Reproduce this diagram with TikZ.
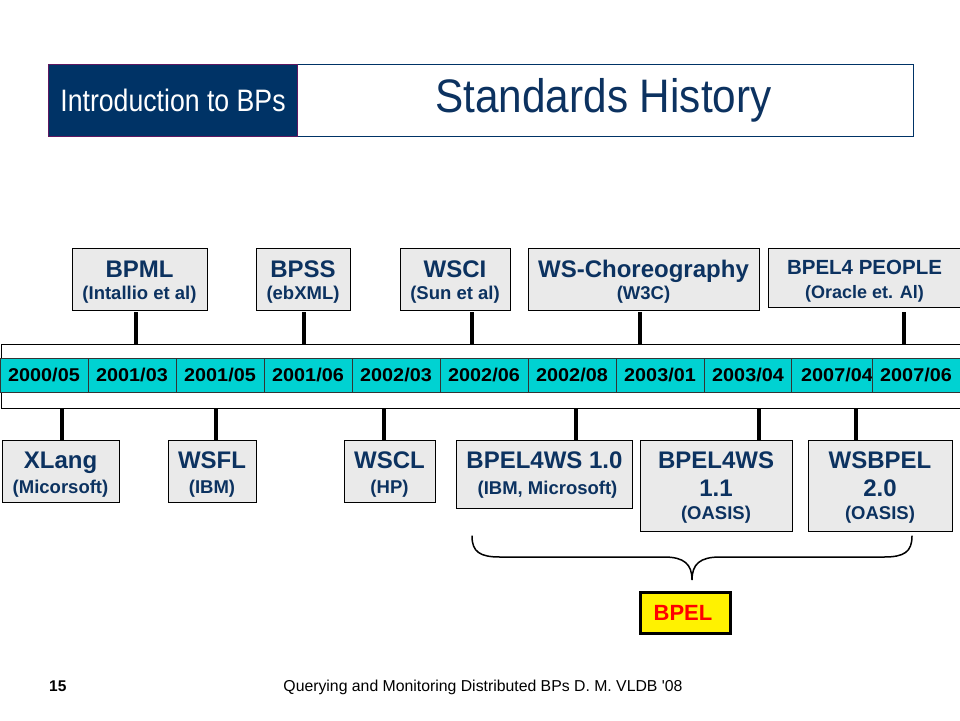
\documentclass[tikz,border=0pt]{standalone}
\usepackage{fontspec}
\setmainfont{Liberation Sans}
\newfontfamily\footf{Liberation Sans}[Ligatures=TeXOff]
\definecolor{navy}{RGB}{0,51,102}
\definecolor{tblue}{RGB}{12,50,96}
\definecolor{tealc}{RGB}{0,210,210}
\definecolor{boxgray}{RGB}{234,234,234}
\definecolor{hdrpurple}{RGB}{96,24,96}
\begin{document}
\begin{tikzpicture}[x=1pt,y=-1pt,
  box/.style={draw=black, line width=1pt, fill=boxgray, inner sep=0pt, outer sep=0pt},
  conn/.style={line width=4pt},
  ttl/.style={font=\bfseries\fontsize{24}{28}\selectfont, text=tblue, anchor=base, inner sep=0pt},
  ttls/.style={font=\bfseries\fontsize{20.5}{24}\selectfont, text=tblue, anchor=base, inner sep=0pt},
  subt/.style={font=\bfseries\fontsize{18.5}{22}\selectfont, text=tblue, anchor=base, inner sep=0pt},
  cell/.style={draw=black!80, line width=0.8pt, fill=tealc, minimum height=34, inner sep=0pt,
    font=\bfseries\fontsize{18.5}{22}\selectfont},
]
\useasboundingbox (0,0) rectangle (960,720);
\fill[white] (0,0) rectangle (960,720);

% header
\node[draw=navy, line width=1pt, minimum width=865, minimum height=72, anchor=north west, inner sep=0pt] (hdr) at (48,64) {};
\node[fill=navy, draw=hdrpurple, line width=1pt, minimum width=249, minimum height=72, anchor=north west, inner sep=0pt,
  text=white, font=\fontsize{31}{36}\selectfont] (intro) at (48,64) {\scalebox{0.86}[1]{Introduction to BPs}};
\node[anchor=base, inner sep=0pt, text=tblue, font=\fontsize{47}{54}\selectfont] (title) at (603.5,112) {\scalebox{0.9}[1]{Standards History}};

% timeline
\node[draw=black, line width=1pt, fill=white, minimum width=980, minimum height=64, anchor=north west, inner sep=0pt] (tl) at (0.5,344) {};
\node[cell, minimum width=88] (c1) at (44,375) {\scalebox{1.07}[1]{2000/05}};
\node[cell, minimum width=88] (c2) at (132,375) {\scalebox{1.07}[1]{2001/03}};
\node[cell, minimum width=88] (c3) at (220,375) {\scalebox{1.07}[1]{2001/05}};
\node[cell, minimum width=88] (c4) at (308,375) {\scalebox{1.07}[1]{2001/06}};
\node[cell, minimum width=88] (c5) at (396,375) {\scalebox{1.07}[1]{2002/03}};
\node[cell, minimum width=88] (c6) at (484,375) {\scalebox{1.07}[1]{2002/06}};
\node[cell, minimum width=88] (c7) at (572,375) {\scalebox{1.07}[1]{2002/08}};
\node[cell, minimum width=88] (c8) at (660,375) {\scalebox{1.07}[1]{2003/01}};
\node[cell, minimum width=88] (c9) at (748,375) {\scalebox{1.07}[1]{2003/04}};
\node[cell, minimum width=80] (c10) at (832,375) {\hspace*{10pt}\scalebox{1.07}[1]{2007/04}};
\node[cell, minimum width=100] (c11) at (922,375) {\scalebox{1.07}[1]{2007/06}\hspace*{12pt}};

% upper boxes
\node[box, minimum width=135, minimum height=62] (bpml) at (139.5,279) {};
\node[ttl] (bpmlT) at (139.5,277) {BPML};
\node[subt] (bpmlS) at (139.5,299.5) {(Intallio et al)};

\node[box, minimum width=94, minimum height=62] (bpss) at (303,279) {};
\node[ttl] (bpssT) at (303,277) {BPSS};
\node[subt] (bpssS) at (303,299.5) {(ebXML)};

\node[box, minimum width=110, minimum height=62] (wsci) at (455,279) {};
\node[ttl] (wsciT) at (455,277) {WSCI};
\node[subt] (wsciS) at (455,299.5) {(Sun et al)};

\node[box, minimum width=231, minimum height=62] (wsch) at (643.5,279) {};
\node[ttl] (wschT) at (643.5,277) {WS-Choreography};
\node[subt] (wschS) at (643.5,299.5) {(W3C)};

\node[box, minimum width=200, minimum height=59, anchor=north west] (bp4p) at (768,248) {};
\node[ttls] (bp4pT) at (864.5,274.3) {BPEL4 PEOPLE};
\node[subt, font=\bfseries\fontsize{18}{22}\selectfont] (bp4pS) at (864.5,298) {(Oracle et. Al)};

% lower boxes
\node[box, minimum width=117, minimum height=62] (xlang) at (60.5,471) {};
\node[ttl] (xlangT) at (60.5,468) {XLang};
\node[subt] (xlangS) at (60.5,493) {(Micorsoft)};

\node[box, minimum width=88, minimum height=62] (wsfl) at (212,471) {};
\node[ttl] (wsflT) at (212,468) {WSFL};
\node[subt] (wsflS) at (212,493) {(IBM)};

\node[box, minimum width=91, minimum height=62] (wscl) at (389.5,471) {};
\node[ttl] (wsclT) at (389.5,468) {WSCL};
\node[subt] (wsclS) at (389.5,493) {(HP)};

\node[box, minimum width=176, minimum height=68] (b10) at (544,474) {};
\node[ttl] (b10T) at (544.5,468) {BPEL4WS 1.0};
\node[subt] (b10S) at (547.5,494) {(IBM, Microsoft)};

\node[box, minimum width=152, minimum height=91] (b11) at (716,485.5) {};
\node[ttl] (b11T) at (716,468) {BPEL4WS};
\node[ttl] (b11V) at (716,496.5) {1.1};
\node[subt] (b11S) at (716,519.5) {(OASIS)};

\node[box, minimum width=144, minimum height=91] (ws20) at (880,485.5) {};
\node[ttl] (ws20T) at (880,468) {WSBPEL};
\node[ttl] (ws20V) at (880,496.5) {2.0};
\node[subt] (ws20S) at (880,519.5) {(OASIS)};

% connector anchors on the timeline
\coordinate (u1) at (136,344);
\coordinate (u2) at (304,344);
\coordinate (u3) at (472,344);
\coordinate (u4) at (640,344);
\coordinate (u5) at (904,344);
\coordinate (l1) at (62,408);
\coordinate (l2) at (216,408);
\coordinate (l3) at (384,408);
\coordinate (l4) at (576,408);
\coordinate (l5) at (759,408);
\coordinate (l6) at (856,408);

\draw[conn] ([yshift=-2pt]u1 |- bpml.south) -- (u1);
\draw[conn] ([yshift=-2pt]u2 |- bpss.south) -- (u2);
\draw[conn] ([yshift=-2pt]u3 |- wsci.south) -- (u3);
\draw[conn] ([yshift=-2pt]u4 |- wsch.south) -- (u4);
\draw[conn] ([yshift=-5pt]u5 |- bp4p.south) -- (u5);
\draw[conn] (l1) -- (l1 |- xlang.north);
\draw[conn] (l2) -- (l2 |- wsfl.north);
\draw[conn] (l3) -- (l3 |- wscl.north);
\draw[conn] (l4) -- (l4 |- b10.north);
\draw[conn] (l5) -- (l5 |- b11.north);
\draw[conn] (l6) -- (l6 |- ws20.north);

% brace
\coordinate (brA) at (472,536);
\coordinate (brT) at (692,580);
\coordinate (brB) at (912,536);
\draw[line width=1.5pt, line cap=round]
  (brA) .. controls (472,552) and (480,557) .. (500,557) -- (664,557)
  .. controls (684,557) and (692,564) .. (brT)
  .. controls (692,564) and (700,557) .. (720,557) -- (884,557)
  .. controls (904,557) and (912,552) .. (brB);

% BPEL box
\node[draw=black, line width=3pt, fill=yellow, minimum width=90, minimum height=41, inner sep=0pt,
  text=red, font=\bfseries\fontsize{22}{26}\selectfont] (bpel) at (685.5,613) {BPEL\hspace*{5pt}};

% footer
\node[anchor=base west, inner sep=0pt, font=\bfseries\fontsize{15.5}{18}\selectfont] (pg) at (49,691) {15};
\node[anchor=base, inner sep=0pt, font=\footf\fontsize{15.8}{18}\selectfont] (foot) at (483,691) {Querying and Monitoring Distributed BPs D. M. VLDB '08};
\end{tikzpicture}
\end{document}
